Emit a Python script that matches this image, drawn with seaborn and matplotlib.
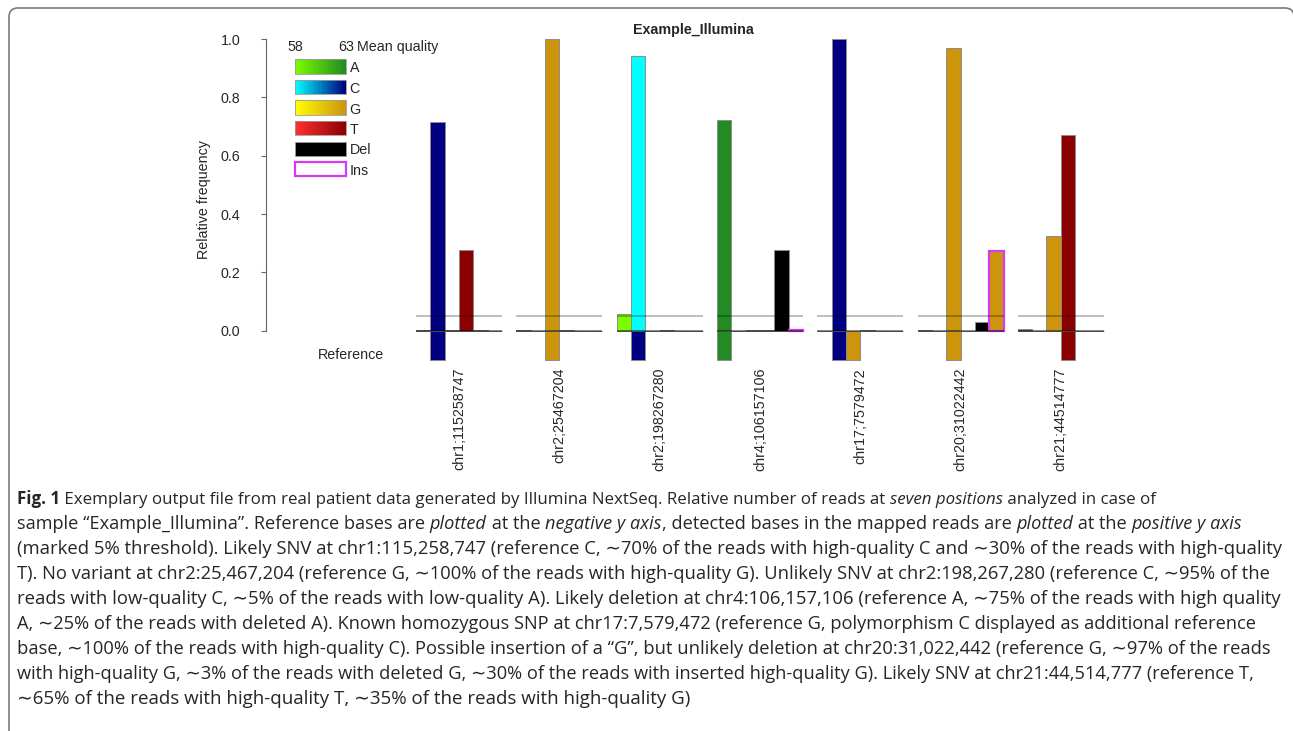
import pandas as pd
import matplotlib
matplotlib.use("Agg")
import matplotlib.pyplot as plt
import seaborn as sns
from matplotlib.patches import Rectangle, FancyBboxPatch
from matplotlib.transforms import IdentityTransform
from matplotlib.colors import to_rgb

# -------------------------------
# DATA
# -------------------------------
positions = ["chr1;115258747", "chr2;25467204", "chr2;198267280", "chr4;106157106",
             "chr17;7579472", "chr20;31022442", "chr21;44514777"]
bases = ["A", "C", "G", "T", "Del", "Ins"]

# relative frequency of detected bases, one value per position
freq_A = [0.004, 0.003, 0.058, 0.722, 0.0, 0.003, 0.005]
freq_C = [0.715, 0.0, 0.942, 0.0, 1.0, 0.0, 0.0]
freq_G = [0.002, 1.0, 0.0, 0.002, 0.0, 0.969, 0.323]
freq_T = [0.278, 0.002, 0.002, 0.002, 0.002, 0.0, 0.670]
freq_Del = [0.002, 0.0, 0.0, 0.275, 0.0, 0.031, 0.0]
freq_Ins = [0.0, 0.0, 0.0, 0.003, 0.0, 0.272, 0.0]

# mean base quality of the reads (58 = low, 63 = high)
qual_A = [63, 63, 58, 63, 63, 63, 63]
qual_C = [63, 63, 58, 63, 63, 63, 63]
qual_G = [63, 63, 63, 63, 63, 63, 63]
qual_T = [63, 63, 63, 63, 63, 63, 63]
ins_base = [None, None, None, None, None, "G", None]

ref_bases = [["C"], ["G"], ["C"], ["A"], ["C", "G"], ["G"], ["T"]]
ref_depth = -0.1
threshold = 0.05
y_ticks = [0.0, 0.2, 0.4, 0.6, 0.8, 1.0]
q_low, q_high = 58, 63

low_col = {"A": "#7CFC00", "C": "#00FFFF", "G": "#FFFF00", "T": "#FF3030", "Del": "#000000"}
high_col = {"A": "#228B22", "C": "#000080", "G": "#CD950C", "T": "#8B0000", "Del": "#000000"}
ins_edge = "#D63AF5"

freqs = {"A": freq_A, "C": freq_C, "G": freq_G, "T": freq_T, "Del": freq_Del, "Ins": freq_Ins}
quals = {"A": qual_A, "C": qual_C, "G": qual_G, "T": qual_T}


def qual_color(base, q):
    t = (q - q_low) / (q_high - q_low)
    lo, hi = to_rgb(low_col[base]), to_rgb(high_col[base])
    return tuple(l + (h - l) * t for l, h in zip(lo, hi))


rows = []
for g, pos in enumerate(positions):
    for j, b in enumerate(bases):
        if b == "Ins":
            col = qual_color(ins_base[g], q_high) if ins_base[g] else (1, 1, 1)
        elif b == "Del":
            col = (0, 0, 0)
        else:
            col = qual_color(b, quals[b][g])
        rows.append({"slot": 7 * g + j, "value": freqs[b][g], "key": f"{g}-{b}", "color": col})
    for rb in ref_bases[g]:
        rows.append({"slot": 7 * g + bases.index(rb), "value": ref_depth,
                     "key": f"{g}-ref-{rb}", "color": to_rgb(high_col[rb])})
df = pd.DataFrame(rows)

# -------------------------------
# FIGURE
# -------------------------------
sns.set_style("white")
plt.rcParams["font.family"] = ["Liberation Sans", "DejaVu Sans"]
W, H = 1293, 731
fig = plt.figure(figsize=(W / 100, H / 100), dpi=100)
ax = fig.add_axes([266 / W, 1 - 372.7 / H, 854 / W, 346.5 / H])

sns.barplot(data=df, x="slot", y="value", hue="key", hue_order=list(df["key"]),
            palette=dict(zip(df["key"], df["color"])), native_scale=True, dodge=False,
            width=1, errorbar=None, legend=False, saturation=1,
            edgecolor="#8c8c8c", linewidth=0.7, ax=ax)

for p in ax.patches:
    slot = round(p.get_x() + p.get_width() / 2)
    if slot % 7 == 5 and p.get_height() > 0:
        p.set_edgecolor(ins_edge)
        p.set_linewidth(1.6)

for g in range(len(positions)):
    ax.hlines(0, 7 * g - 0.5, 7 * g + 5.5, color="black", alpha=0.6, lw=1.1, zorder=5)
    ax.hlines(threshold, 7 * g - 0.5, 7 * g + 5.5, color="black", alpha=0.33, lw=1.1, zorder=5)

ax.set_xlim(-10.97, 48.63)
ax.set_ylim(-0.144, 1.044)
ax.set_yticks(y_ticks)
ax.set_yticklabels([f"{v:.1f}" for v in y_ticks], fontsize=10.3)
ax.set_xticks([7 * g + 2.5 for g in range(len(positions))])
ax.set_xticklabels(positions, rotation=90, fontsize=10.3, va="top")
ax.tick_params(axis="x", length=0, pad=-3.4)
ax.tick_params(axis="y", length=3.6, width=0.8, color="#666666", pad=15, left=True)
for s in ["top", "right", "bottom"]:
    ax.spines[s].set_visible(False)
ax.spines["left"].set_bounds(0, 1)
ax.spines["left"].set_color("#666666")
ax.spines["left"].set_linewidth(0.8)
ax.set_xlabel("")
ax.set_ylabel("Relative frequency", fontsize=10.3)
ax.yaxis.set_label_coords(-0.064, 0.5)
ax.text(0.5, 0.989, "Example_Illumina", transform=ax.transAxes, ha="center", va="center",
        fontsize=10.3, fontweight="bold")
ax.text(0.0995, 0.05, "Reference", transform=ax.transAxes, ha="center", va="center",
        fontsize=10.3)


# -------------------------------
# LEGEND (quality gradients)
# -------------------------------
def fx(px):
    return (px - 266) / 854


def fy(py):
    return (372.7 - py) / 346.5


bx0, bx1 = fx(295), fx(346)
ax.text(fx(295.5), fy(46.7), "58", transform=ax.transAxes, ha="center", va="center", fontsize=10.3)
ax.text(fx(346.5), fy(46.7), "63", transform=ax.transAxes, ha="center", va="center", fontsize=10.3)
ax.text(fx(357), fy(46.7), "Mean quality", transform=ax.transAxes, ha="left", va="center", fontsize=10.3)
n_steps = 40
for i, b in enumerate(bases):
    top = 59.5 + 20.5 * i
    y0, y1 = fy(top + 14), fy(top)
    if b in ("A", "C", "G", "T"):
        for k in range(n_steps):
            q = q_low + (q_high - q_low) * k / (n_steps - 1)
            xa = bx0 + (bx1 - bx0) * k / n_steps
            ax.add_patch(Rectangle((xa, y0), (bx1 - bx0) / n_steps * 1.05, y1 - y0,
                                   transform=ax.transAxes, color=qual_color(b, q),
                                   lw=0, clip_on=False, zorder=6))
        ax.add_patch(Rectangle((bx0, y0), bx1 - bx0, y1 - y0, transform=ax.transAxes,
                               fill=False, edgecolor="#9a9a9a", lw=0.6, clip_on=False, zorder=7))
    elif b == "Del":
        ax.add_patch(Rectangle((bx0, y0), bx1 - bx0, y1 - y0, transform=ax.transAxes,
                               facecolor="black", edgecolor="#9a9a9a", lw=0.6, clip_on=False, zorder=7))
    else:
        ax.add_patch(Rectangle((bx0, y0), bx1 - bx0, y1 - y0, transform=ax.transAxes,
                               facecolor="white", edgecolor=ins_edge, lw=1.6, clip_on=False, zorder=7))
    ax.text(fx(349.5), fy(top + 9), b, transform=ax.transAxes, ha="left", va="center",
            fontsize=10.3)

# -------------------------------
# FRAME + CAPTION
# -------------------------------
frame = FancyBboxPatch((9, -30), 1285, 753, boxstyle="round,pad=0,rounding_size=9",
                       transform=IdentityTransform(), fill=False, edgecolor="#7a7a7a", lw=1.2)
fig.add_artist(frame)

CAP_FONT = ["Open Sans", "DejaVu Sans"]
N = {}
I = {"style": "italic"}
B = {"weight": "bold"}

caption = [
    ([("Fig. 1", B), (" Exemplary output file from real patient data generated by Illumina NextSeq. Relative number of reads at ", N),
      ("seven positions", I), (" analyzed in case of", N)], 1150),
    ([("sample “Example_Illumina”. Reference bases are ", N), ("plotted", I), (" at the ", N), ("negative y axis", I),
      (", detected bases in the mapped reads are ", N), ("plotted", I), (" at the ", N), ("positive y axis", I)], 1238),
    ([("(marked 5% threshold). Likely SNV at chr1:115,258,747 (reference C, ∼70% of the reads with high-quality C and ∼30% of the reads with high-quality", N)], 1273),
    ([("T). No variant at chr2:25,467,204 (reference G, ∼100% of the reads with high-quality G). Unlikely SNV at chr2:198,267,280 (reference C, ∼95% of the", N)], 1262),
    ([("reads with low-quality C, ∼5% of the reads with low-quality A). Likely deletion at chr4:106,157,106 (reference A, ∼75% of the reads with high quality", N)], 1275),
    ([("A, ∼25% of the reads with deleted A). Known homozygous SNP at chr17:7,579,472 (reference G, polymorphism C displayed as additional reference", N)], 1253),
    ([("base, ∼100% of the reads with high-quality C). Possible insertion of a “G”, but unlikely deletion at chr20:31,022,442 (reference G, ∼97% of the reads", N)], 1263),
    ([("with high-quality G, ∼3% of the reads with deleted G, ∼30% of the reads with inserted high-quality G). Likely SNV at chr21:44,514,777 (reference T,", N)], 1253),
    ([("∼65% of the reads with high-quality T, ∼35% of the reads with high-quality G)", N)], 688),
]

renderer = fig.canvas.get_renderer()


def text_w(s, size, style):
    t = fig.text(0, 0, s, fontsize=size, family=CAP_FONT, **style)
    w = t.get_window_extent(renderer).width
    t.remove()
    return w


def run_adv(s, size, style):
    return text_w("|" + s + "|", size, style) - text_w("||", size, style)


x_left = 17
for i, (runs, right) in enumerate(caption):
    base = 13.0
    total = sum(run_adv(s, base, st) for s, st in runs)
    size = base * (right - x_left) / total
    y_base = 504 + 25 * i
    x = x_left
    for s, st in runs:
        fig.text(x / W, 1 - y_base / H, s, fontsize=size, family=CAP_FONT, ha="left",
                 va="baseline", **st)
        x += run_adv(s, size, st)

fig.savefig("out.png", dpi=100)
